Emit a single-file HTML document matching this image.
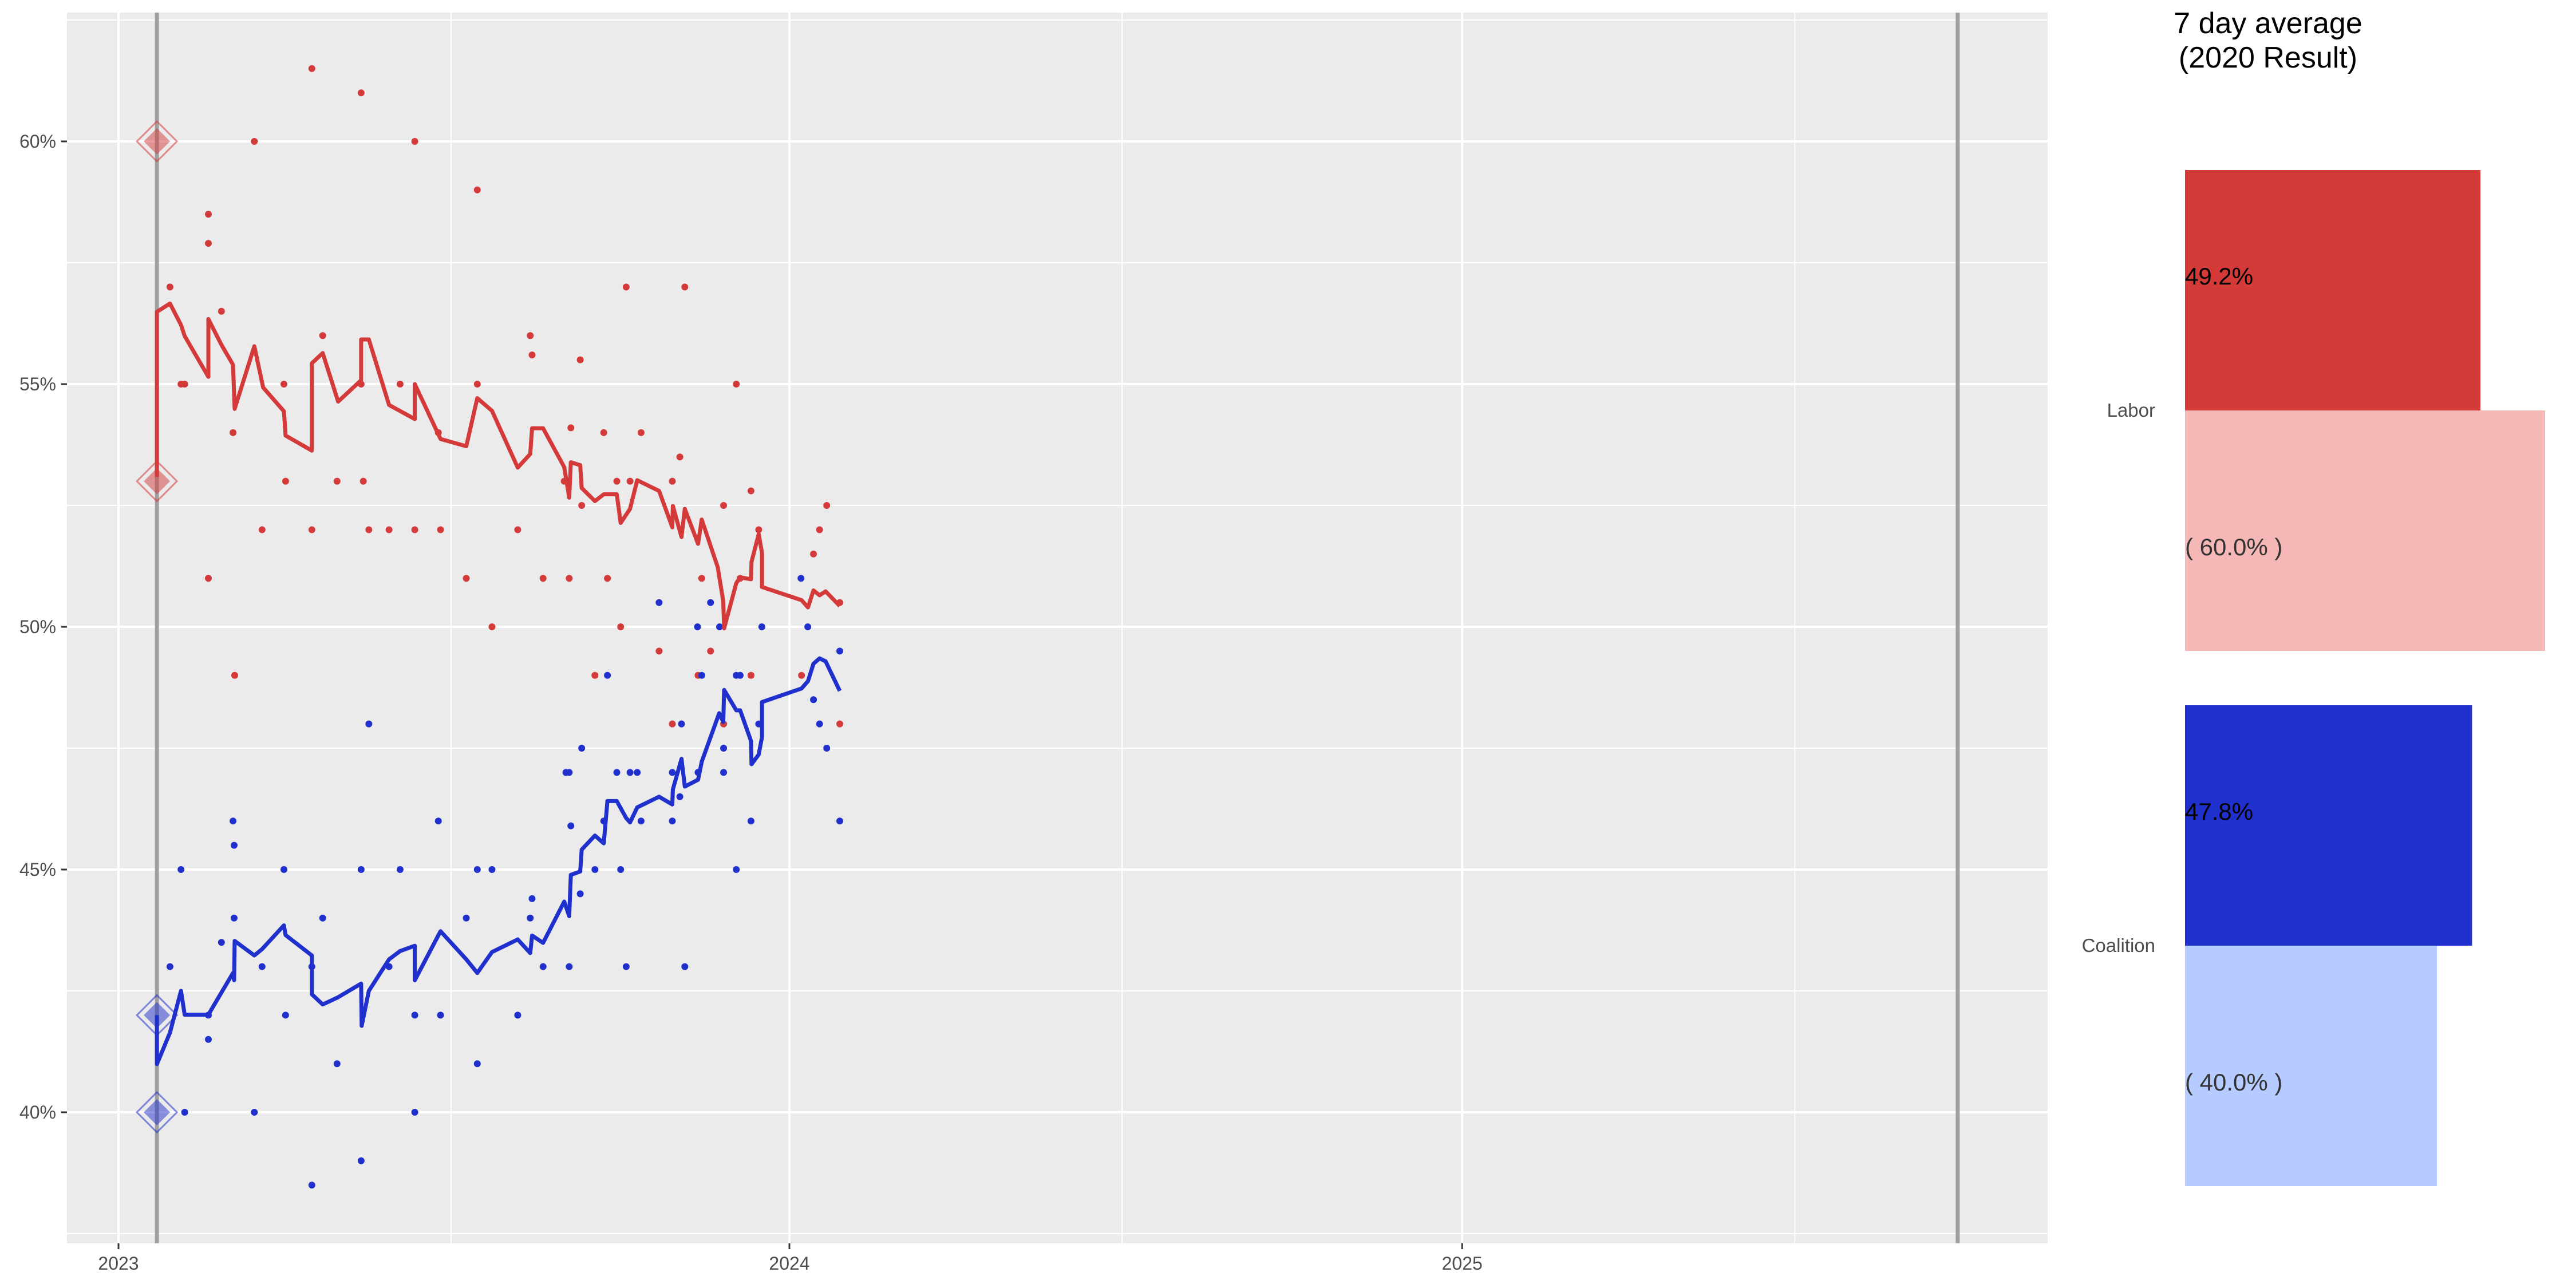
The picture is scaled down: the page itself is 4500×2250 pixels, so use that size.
<!DOCTYPE html>
<html><head><meta charset="utf-8"><style>
html,body{margin:0;padding:0;background:#fff;}
svg{display:block;font-family:"Liberation Sans",Arial,sans-serif;}
</style></head><body>
<svg id="chart" width="4500" height="2250" viewBox="0 0 4500 2250" xmlns="http://www.w3.org/2000/svg">
<rect x="117" y="22" width="3460" height="2150" fill="#ebebeb"/>
<g id="grid"></g>
<g id="refs"></g>
<g id="dots"></g>
<g id="lines"></g>
<g id="diamonds"></g>
<g id="axes"></g>
<g id="side">
<text x="3962" y="58" font-size="52" text-anchor="middle" fill="#000">7 day average</text>
<text x="3962" y="118" font-size="52" text-anchor="middle" fill="#000">(2020 Result)</text>
</g>
</svg>
<script>
const labDays=[20.9,20.9,28,34,36,48.9,48.9,56,62.3,63.2,73.9,78.7,90,90.9,105.2,105.2,111.1,119.5,132,132,136.2,147.2,161.2,161.2,175.2,189.2,195.2,203.2,217.2,224,225,231,242.5,245.2,246.1,251.2,252,259.2,264,271.1,273.2,278.3,282.2,294.1,301.3,301.6,306.3,308.1,315.3,317.3,326,329,329.5,336.1,338.2,344.1,344.4,348.3,350.1,350.1,371.6,375.1,378.1,381.4,384.7,392.4];
const labAvg=[53.09,56.49,56.66,56.22,55.99,55.15,56.34,55.81,55.4,54.49,55.78,54.93,54.44,53.94,53.63,55.43,55.64,54.64,55.08,55.92,55.92,54.57,54.28,55.0,53.87,53.72,54.71,54.45,53.28,53.56,54.09,54.09,53.29,52.66,53.39,53.33,52.86,52.59,52.73,52.73,52.14,52.43,53.02,52.8,52.05,52.49,51.85,52.43,51.71,52.21,51.23,50.53,49.97,50.9,51.02,50.98,51.34,51.91,51.52,50.82,50.55,50.4,50.75,50.65,50.73,50.43];
const coaDays=[20.9,20.9,28,34,36,48.9,62.3,62.9,63.2,73.9,78.1,90,90.9,105.2,105.2,111.1,119.5,132,132.3,136.2,147.2,153.2,161.2,161.2,175.2,189.2,195.2,203.2,217.2,224,225,231,242.5,245.2,246.1,251.2,252,259.2,264,266,271.1,276.2,278.3,282.2,294.1,301.3,301.6,306.3,308.1,315.3,317.3,326.8,329,329.5,336.1,338.2,344.1,344.4,348.3,350.1,350.1,371.6,375.1,378.1,381.4,384.7,392.4];
const coaAvg=[42.0,40.99,41.64,42.5,42.01,42.01,42.87,42.72,43.53,43.23,43.36,43.85,43.65,43.23,42.43,42.22,42.37,42.65,41.78,42.5,43.15,43.32,43.43,42.72,43.73,43.15,42.87,43.3,43.56,43.28,43.64,43.49,44.34,44.04,44.89,44.96,45.41,45.7,45.54,46.41,46.41,46.06,45.97,46.28,46.5,46.34,46.65,47.28,46.71,46.85,47.22,48.22,48.04,48.7,48.28,48.28,47.65,47.17,47.37,47.73,48.45,48.73,48.88,49.24,49.35,49.29,48.68];
const labPollDays=[28,34,36,48.9,48.9,48.9,56,62.3,73.9,78.1,90,90.9,105.2,105.2,111.1,118.9,132,132,133.2,136.2,147.2,153.2,161.2,161.2,174,175.2,189.2,195.2,195.2,203.2,217.2,224,225,231,242.5,244.6,245.2,246.1,251.2,252,264,266,271.1,273.2,276.2,278.3,284.3,301.3,305.4,308.1,317.3,329.2,336.1,338.2,344.1,348.3,378.1,381.4,385.3,392.4,63.2,259.2,294.1,301.3,315.3,322.1,329.2,344.1,371.6,392.4];
const labPollVals=[57,55,55,58.5,57.9,51,56.5,54,60,52,55,53,61.5,52,56,53,61,55,53,52,52,55,60,52,54,52,51,59,55,50,52,56,55.6,51,53,53,51,54.1,55.5,52.5,54,51,53,50,57,53,54,53,53.5,57,51,52.5,55,51,52.8,52,51.5,52,52.5,50.5,49,49,49.5,48,49,49.5,48,49,49,48];
const coaPollDays=[28,34,36,48.9,48.9,56,62.3,62.9,62.9,73.9,78.1,90,90.9,105.2,105.2,111.1,118.9,132,132,136.2,147.2,153.2,161.2,161.2,174,175.2,189.2,195.2,195.2,203.2,217.2,224,225,231,243.4,245.2,245.2,246.1,251.2,252,259.2,264,266,271.1,273.2,276.2,278.3,282.2,284.3,301.3,301.3,305.4,306.3,308.1,315.3,317.3,329.2,329.2,336.1,338.2,336.1,344.1,348.3,378.1,381.4,385.3,392.4,392.4,294.1,322.1,371.3,315,327,350,375];
const coaPollVals=[43,45,40,42,41.5,43.5,46,45.5,44,40,43,45,42,43,38.5,44,41,45,39,48,43,45,42,40,46,42,44,45,41,45,42,44,44.4,43,47,47,43,45.9,44.5,47.5,45,46,49,47,45,43,47,47,46,47,46,46.5,48,43,47,49,47.5,47,49,49,45,46,48,48.5,48,47.5,49.5,46,50.5,50.5,51,50,50,50,50];
const resultDay=[20.9];
const labResult=[60,53];
const coaResult=[42,40];
const refDays=[20.9,1000.6];
const yTicks=[40,45,50,55,60];
const yMinor=[37.5,42.5,47.5,52.5,57.5,62.5];
const xTicks=[0,365,731];
const xTickLabels=["2023","2024","2025"];
const xMinor=[181,546,912];
const barParties=["Labor","Coalition"];
const barCurrent=[49.2,47.8];
const barPrevious=[60.0,40.0];

const NS="http://www.w3.org/2000/svg";
const PL=117,PR=3577,PT=22,PB=2172;
const X=d=>207+d/365*1172;
const Y=p=>247+(60-p)*84.8;
function mk(tag,attrs,parent){const e=document.createElementNS(NS,tag);for(const k in attrs)e.setAttribute(k,attrs[k]);parent.appendChild(e);return e;}
const grid=document.getElementById('grid');
yMinor.forEach(v=>{const e=mk('line',{x1:PL,x2:PR,y1:Y(v),y2:Y(v),stroke:'#fff','stroke-width':2},grid);

});
xMinor.forEach(v=>{const e=mk('line',{x1:X(v),x2:X(v),y1:PT,y2:PB,stroke:'#fff','stroke-width':2},grid);

});
yTicks.forEach(v=>{const e=mk('line',{x1:PL,x2:PR,y1:Y(v),y2:Y(v),stroke:'#fff','stroke-width':4},grid);

});
xTicks.forEach(v=>{const e=mk('line',{x1:X(v),x2:X(v),y1:PT,y2:PB,stroke:'#fff','stroke-width':4},grid);

});
const refs=document.getElementById('refs');
refDays.forEach(d=>{const e=mk('line',{x1:X(d),x2:X(d),y1:PT,y2:PB,stroke:'#a0a0a0','stroke-width':7},refs);

});
const dots=document.getElementById('dots');
labPollDays.forEach((d,i)=>{const e=mk('circle',{cx:X(d),cy:Y(labPollVals[i]),r:6,fill:'#d43a3a'},dots);

});
coaPollDays.forEach((d,i)=>{const e=mk('circle',{cx:X(d),cy:Y(coaPollVals[i]),r:6,fill:'#2030cc'},dots);

});
const lines=document.getElementById('lines');
const lp=mk('polyline',{points:labDays.map((d,i)=>X(d)+','+Y(labAvg[i])).join(' '),fill:'none',stroke:'#d43a3a','stroke-width':7,'stroke-linejoin':'round'},lines);


const cp=mk('polyline',{points:coaDays.map((d,i)=>X(d)+','+Y(coaAvg[i])).join(' '),fill:'none',stroke:'#2030cc','stroke-width':7,'stroke-linejoin':'round'},lines);


const dia=document.getElementById('diamonds');
function diamond(cx,cy,col,name){
 const o=35,i=23;
 const a=mk('polygon',{points:`${cx},${cy-o} ${cx+o},${cy} ${cx},${cy+o} ${cx-o},${cy}`,fill:'none',stroke:col,'stroke-opacity':0.55,'stroke-width':3},dia);
 
 
 const b=mk('polygon',{points:`${cx},${cy-i} ${cx+i},${cy} ${cx},${cy+i} ${cx-i},${cy}`,fill:col,'fill-opacity':0.5},dia);
 
 
}
labResult.forEach(v=>diamond(X(resultDay[0]),Y(v),'#d43a3a','labor-result-marker'));
coaResult.forEach(v=>diamond(X(resultDay[0]),Y(v),'#2030cc','coalition-result-marker'));
const axes=document.getElementById('axes');
yTicks.forEach(v=>{
 const t=mk('line',{x1:107,x2:117,y1:Y(v),y2:Y(v),stroke:'#333','stroke-width':3},axes);
 
 
 const l=mk('text',{x:98,y:Y(v)+11,'font-size':32,'text-anchor':'end',fill:'#4d4d4d'},axes);
 l.textContent=v+'%';
 
 
});
xTicks.forEach((v,i)=>{
 const t=mk('line',{x1:X(v),x2:X(v),y1:PB,y2:PB+10,stroke:'#333','stroke-width':3},axes);
 
 
 const l=mk('text',{x:X(v),y:2218,'font-size':32,'text-anchor':'middle',fill:'#4d4d4d'},axes);
 l.textContent=xTickLabels[i];
 
 
});
const side=document.getElementById('side');
const BX=3817,BW=v=>v*10.49,BWP=v=>62+v*9.45;
const darkC=['#d33a38','#2030cc'],lightC=['#f6b7b7','#b6cbff'];
const groupTop=[297,1232],barH=420;
barParties.forEach((p,i)=>{
 const t=groupTop[i];
 const r1=mk('rect',{x:BX,y:t,width:BW(barCurrent[i]),height:barH,fill:darkC[i]},side);
 
 
 const r2=mk('rect',{x:BX,y:t+barH,width:BWP(barPrevious[i]),height:barH,fill:lightC[i]},side);
 
 
 const l1=mk('text',{x:BX,y:t+200,'font-size':42,fill:'#000'},side);
 l1.textContent=barCurrent[i].toFixed(1)+'%';
 
 
 const l2=mk('text',{x:BX,y:t+barH+253,'font-size':42,fill:'#333'},side);
 l2.textContent='( '+barPrevious[i].toFixed(1)+'% )';
 
 
 const n=mk('text',{x:3765,y:t+barH+11,'font-size':33,'text-anchor':'end',fill:'#4d4d4d'},side);
 n.textContent=p;
 
 
});
</script>
</body></html>
